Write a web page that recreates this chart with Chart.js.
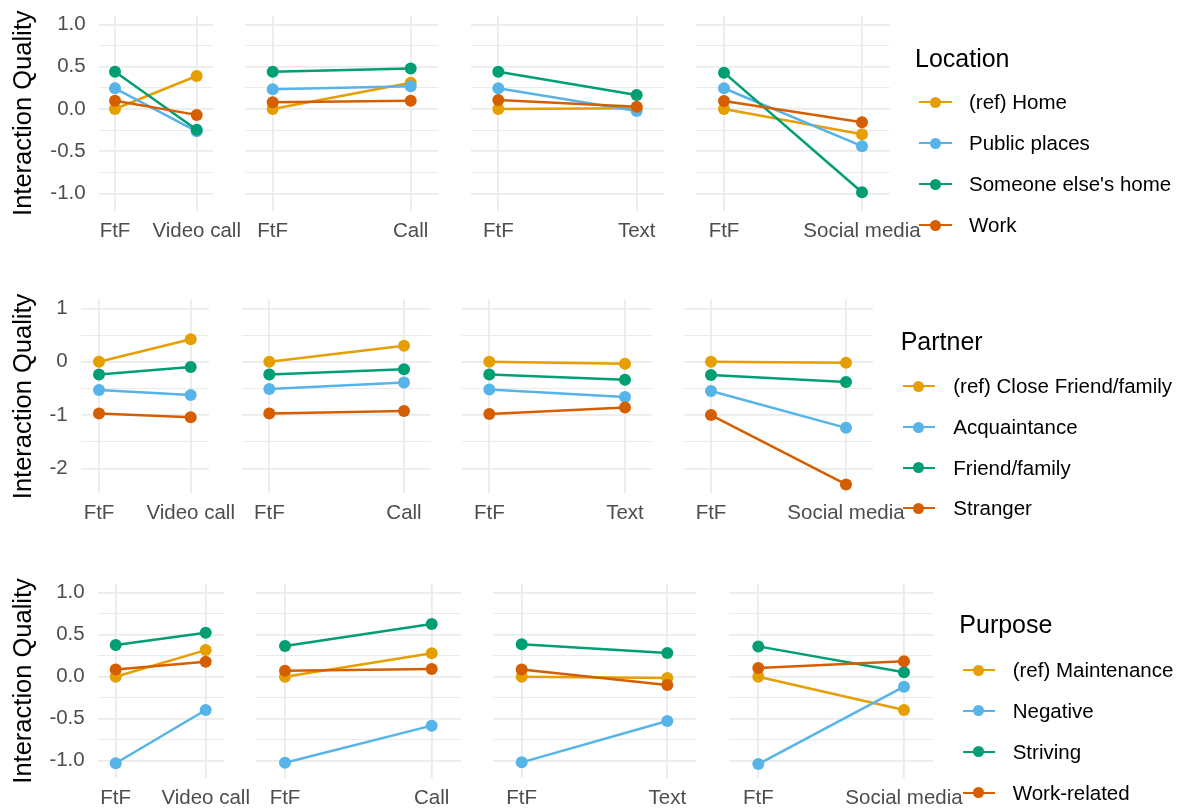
<!DOCTYPE html>
<html>
<head>
<meta charset="utf-8">
<script src="https://cdn.jsdelivr.net/npm/chart.js@4.4.1/dist/chart.umd.min.js"></script>
<style>
  body { margin:0; background:#fff; width:1182px; height:811px; overflow:hidden; position:relative;
         font-family:"Liberation Sans", Arial, sans-serif; }
  canvas { position:absolute; left:0; top:0; }
  .lg { position:absolute; white-space:nowrap; color:#000; }
  .lg-title { font-size:25px; line-height:30px; }
  .lg-text { font-size:20.5px; line-height:24px; }
  .lg-line { position:absolute; height:2.4px; }
  .lg-dot { position:absolute; width:11px; height:11px; border-radius:50%; }
</style>
</head>
<body>
<script>
// categories
const modes = ['Video call', 'Call', 'Text', 'Social media'];
const okabe = ['#E69F00', '#56B4E9', '#009E73', '#D55E00'];

// Location : [FtF, mode] per panel
const locationGroups = ['(ref) Home', 'Public places', "Someone else's home", 'Work'];
const locHome   = [[0.00, 0.39], [0.00, 0.31], [0.00, 0.01], [0.00, -0.30]];
const locPublic = [[0.245, -0.265], [0.233, 0.27], [0.245, -0.024], [0.245, -0.44]];
const locOther  = [[0.44, -0.245], [0.44, 0.48], [0.44, 0.166], [0.43, -0.985]];
const locWork   = [[0.098, -0.07], [0.08, 0.098], [0.106, 0.027], [0.095, -0.157]];

// Partner
const partnerGroups = ['(ref) Close Friend/family', 'Acquaintance', 'Friend/family', 'Stranger'];
const parClose    = [[0.00, 0.42], [0.00, 0.30], [0.00, -0.04], [0.00, -0.02]];
const parAcq      = [[-0.53, -0.625], [-0.51, -0.39], [-0.52, -0.66], [-0.55, -1.24]];
const parFriend   = [[-0.24, -0.10], [-0.24, -0.14], [-0.24, -0.34], [-0.25, -0.38]];
const parStranger = [[-0.97, -1.04], [-0.97, -0.925], [-0.98, -0.86], [-1.00, -2.30]];

// Purpose
const purposeGroups = ['(ref) Maintenance', 'Negative', 'Striving', 'Work-related'];
const purMaint = [[0.00, 0.317], [0.00, 0.278], [0.00, -0.016], [0.00, -0.397]];
const purNeg   = [[-1.03, -0.397], [-1.024, -0.583], [-1.02, -0.528], [-1.04, -0.119]];
const purStriv = [[0.377, 0.524], [0.365, 0.627], [0.385, 0.282], [0.361, 0.052]];
const purWork  = [[0.087, 0.179], [0.071, 0.091], [0.087, -0.10], [0.103, 0.183]];

// y ticks (majors labelled, minors only gridlines)
const ticksHalf = [-1, -0.75, -0.5, -0.25, 0, 0.25, 0.5, 0.75, 1];
const ticksUnit = [-2, -1.5, -1, -0.5, 0, 0.5, 1];

const W = 1182, H = 811, XH = 40;
const FONT = '"Liberation Sans", Arial, sans-serif';

const rows = [
  { title:'Location', groups:locationGroups, series:[locHome, locPublic, locOther, locWork],
    ticks:ticksHalf, major:v => Math.abs(v*2 - Math.round(v*2)) < 1e-9, fmt:v => v.toFixed(1),
    min:-1.205, max:1.105, top:15.6, bottom:210.8,
    xs:[[115,196.7],[272.7,410.7],[498.3,636.7],[724,862]],
    lg:{ tx:915, ty:58, ys:[102.3,143.3,184,225], k0:919, k1:952, x:969 } },
  { title:'Partner', groups:partnerGroups, series:[parClose, parAcq, parFriend, parStranger],
    ticks:ticksUnit, major:v => Number.isInteger(v), fmt:v => String(v),
    min:-2.465, max:1.165, top:299.6, bottom:493.2,
    xs:[[99,190.7],[269.3,404],[489.3,625],[711,846]],
    lg:{ tx:900.7, ty:341, ys:[386,427.3,467.7,508.3], k0:902.7, k1:935, x:953.3 } },
  { title:'Purpose', groups:purposeGroups, series:[purMaint, purNeg, purStriv, purWork],
    ticks:ticksHalf, major:v => Math.abs(v*2 - Math.round(v*2)) < 1e-9, fmt:v => v.toFixed(1),
    min:-1.205, max:1.105, top:583.9, bottom:777.9,
    xs:[[115.7,205.7],[285,431.7],[521.7,667.3],[758.3,904]],
    lg:{ tx:959.3, ty:624, ys:[670,710.7,751.7,792.7], k0:962.7, k1:995, x:1012.7 } }
];

function panel(row, p){
  const [x0, x1] = row.xs[p];
  const u = x1 - x0;
  const left = x0 - 0.2*u, right = x1 + 0.2*u;
  const first = p === 0;
  const cv = document.createElement('canvas');
  cv.width = W; cv.height = H;
  cv.style.width = W + 'px'; cv.style.height = H + 'px';
  document.body.appendChild(cv);
  new Chart(cv, {
    type: 'line',
    data: { datasets: row.series.map((s, i) => ({
      label: row.groups[i],
      data: [{x:0, y:s[p][0]}, {x:1, y:s[p][1]}],
      borderColor: okabe[i], backgroundColor: okabe[i],
      borderWidth: 2.5, pointRadius: 6, pointBorderWidth: 0, order: 3 - i
    })) },
    options: {
      responsive: false, animation: false, events: [],
      layout: { padding: { left: first ? 0 : left, right: W - right, top: row.top, bottom: H - row.bottom - XH } },
      plugins: { legend: { display:false }, tooltip: { enabled:false } },
      scales: {
        x: { type:'linear', min:-0.2, max:1.2,
             afterBuildTicks: s => { s.ticks = [{value:0}, {value:1}]; },
             afterFit: s => { s.height = XH; s.paddingLeft = 0; s.paddingRight = 0; },
             grid: { color:'#EBEBEB', lineWidth:1.8, drawTicks:false },
             border: { display:false },
             ticks: { callback: v => v === 0 ? 'FtF' : modes[p], color:'#4D4D4D',
                      font:{ family:FONT, size:20.5 }, padding:8, maxRotation:0, autoSkip:false } },
        y: { min:row.min, max:row.max,
             afterBuildTicks: s => { s.ticks = row.ticks.map(v => ({value:v})); },
             afterFit: s => { s.width = first ? left : 0; s.paddingTop = 0; s.paddingBottom = 0; },
             grid: { color:'#EBEBEB', lineWidth: c => row.major(c.tick.value) ? 1.8 : 1.0, drawTicks:false },
             border: { display:false },
             ticks: { display:first, callback: v => row.major(v) ? row.fmt(v) : '', color:'#4D4D4D',
                      font:{ family:FONT, size:20.5 }, padding:13, autoSkip:false },
             title: { display:first, text:'Interaction Quality', color:'#000',
                      font:{ family:FONT, size:25.5 }, padding:{ top:8.5, bottom:0 } } }
      }
    }
  });
}

function legend(row){
  const g = row.lg;
  const t = document.createElement('div');
  t.className = 'lg lg-title'; t.textContent = row.title;
  t.style.left = g.tx + 'px'; t.style.top = (g.ty - 15) + 'px';
  document.body.appendChild(t);
  row.groups.forEach((name, i) => {
    const y = g.ys[i];
    const ln = document.createElement('div');
    ln.className = 'lg-line'; ln.style.background = okabe[i];
    ln.style.left = g.k0 + 'px'; ln.style.width = (g.k1 - g.k0) + 'px'; ln.style.top = (y - 1.2) + 'px';
    const dt = document.createElement('div');
    dt.className = 'lg-dot'; dt.style.background = okabe[i];
    dt.style.left = ((g.k0 + g.k1)/2 - 5.5) + 'px'; dt.style.top = (y - 5.5) + 'px';
    const tx = document.createElement('div');
    tx.className = 'lg lg-text'; tx.textContent = name;
    tx.style.left = g.x + 'px'; tx.style.top = (y - 12) + 'px';
    document.body.append(ln, dt, tx);
  });
}

rows.forEach(r => { for (let p = 0; p < 4; p++) panel(r, p); });
rows.forEach(legend);
</script>
</body>
</html>
